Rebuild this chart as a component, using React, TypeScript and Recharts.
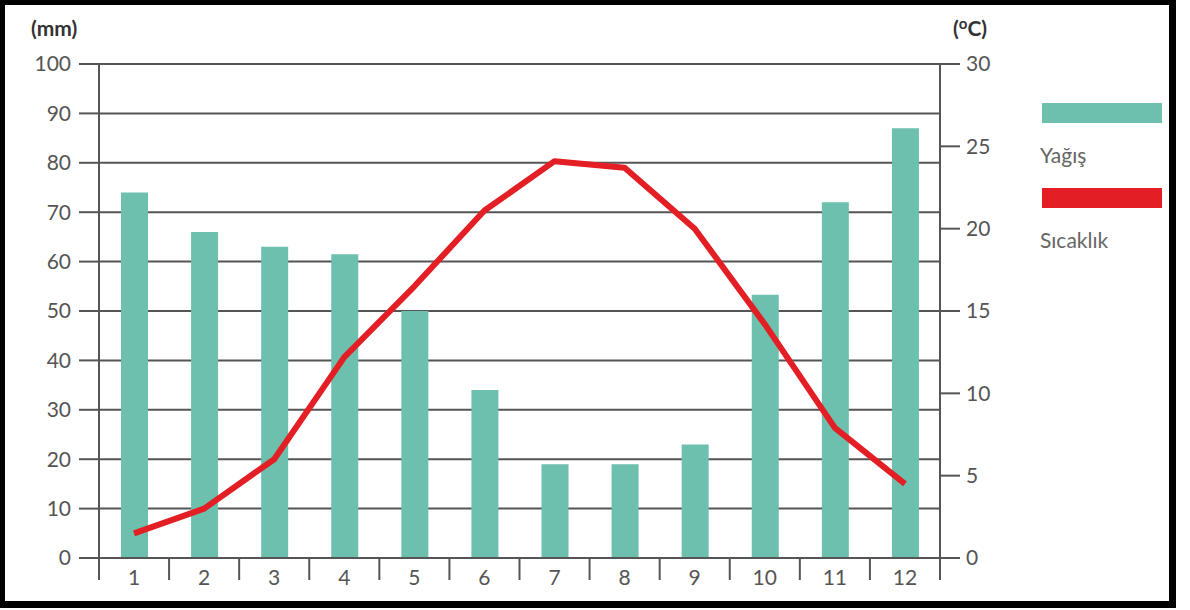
import React from "react";
import {
  ComposedChart,
  Bar,
  Line,
  XAxis,
  YAxis,
  CartesianGrid,
  Legend,
} from "recharts";

const months = ["1", "2", "3", "4", "5", "6", "7", "8", "9", "10", "11", "12"];
const yagis = [74, 66, 63, 61.5, 50, 34, 19, 19, 23, 53.3, 72, 87];
const sicaklik = [1.5, 3, 6, 12.2, 16.5, 21.1, 24.1, 23.7, 20, 14.2, 7.9, 4.5];
const mmTicks = [0, 10, 20, 30, 40, 50, 60, 70, 80, 90, 100];
const tempTicks = [0, 5, 10, 15, 20, 25, 30];

const GREEN = "#6cc0ad";
const RED = "#e31e24";
const GRID = "#555";
const TEXT = "#555";
const FONT = "Lato, 'Open Sans', sans-serif";

const CHART_W = 1190;
const CHART_H = 610;
const AXIS_W = 60;
const LEGEND_W = 130;
// the vertical legend on the right takes its own width out of the plot
const MARGIN = { top: 64, right: 60, bottom: 12, left: 39 };
const PLOT_W = CHART_W - MARGIN.left - MARGIN.right - 2 * AXIS_W - LEGEND_W;

const data = months.map((m, i) => ({
  ay: m,
  yagis: yagis[i],
  sicaklik: sicaklik[i],
}));

// month label in the middle of the band, tick marks on the band edges
function MonthTick(props: any) {
  const { x, y, payload, index } = props;
  const step = PLOT_W / months.length;
  const top = y - 8;
  return (
    <g>
      <line x1={x - step / 2} y1={top} x2={x - step / 2} y2={top + 22} stroke={GRID} strokeWidth={2} />
      {index === months.length - 1 && (
        <line x1={x + step / 2} y1={top} x2={x + step / 2} y2={top + 22} stroke={GRID} strokeWidth={2} />
      )}
      <text
        x={x}
        y={top + 27}
        textAnchor="middle"
        fill={TEXT}
        fontSize={21}
        fontFamily={FONT}
      >
        {payload.value}
      </text>
    </g>
  );
}

function LegendBox() {
  const item = (color: string, label: string) => (
    <div style={{ height: 85 }}>
      <div style={{ width: 120, height: 20, background: color }} />
      <div
        style={{
          fontFamily: FONT,
          fontSize: 21,
          lineHeight: "25px",
          color: "#666",
          marginTop: 19,
          marginLeft: -2,
        }}
      >
        {label}
      </div>
    </div>
  );
  return (
    <div>
      {item(GREEN, "Yağış")}
      {item(RED, "Sıcaklık")}
    </div>
  );
}

export default function App() {
  return (
    <div
      style={{
        position: "absolute",
        left: 0,
        top: 0,
        width: CHART_W,
        height: CHART_H,
        background: "#fff",
      }}
    >
      <div
        style={{
          position: "absolute",
          left: 0,
          top: 0,
          width: 1164,
          height: 596,
          border: "5px solid #000",
          borderRightWidth: 7,
          borderBottomWidth: 7,
        }}
      />
      <ComposedChart width={CHART_W} height={CHART_H} data={data} margin={MARGIN}>
        <CartesianGrid
          horizontal
          vertical={false}
          stroke={GRID}
          strokeWidth={2}
          yAxisId="mm"
        />
        <XAxis
          dataKey="ay"
          height={40}
          axisLine={{ stroke: GRID, strokeWidth: 2 }}
          tickLine={false}
          tick={<MonthTick />}
          interval={0}
        />
        <YAxis
          yAxisId="mm"
          orientation="left"
          width={AXIS_W}
          domain={[0, 100]}
          ticks={mmTicks}
          tickSize={20}
          tickMargin={8}
          axisLine={{ stroke: GRID, strokeWidth: 2 }}
          tickLine={{ stroke: GRID, strokeWidth: 2 }}
          tick={{ fill: TEXT, fontSize: 21, fontFamily: FONT }}
          label={{
            position: "insideTopLeft",
            content: () => (
              <text
                x={31}
                y={36}
                fill="#333"
                fontSize={21}
                fontWeight={700}
                fontFamily={FONT}
              >
                (mm)
              </text>
            ),
          }}
        />
        <YAxis
          yAxisId="c"
          orientation="right"
          width={AXIS_W}
          domain={[0, 30]}
          ticks={tempTicks}
          tickSize={20}
          tickMargin={6}
          axisLine={{ stroke: GRID, strokeWidth: 2 }}
          tickLine={{ stroke: GRID, strokeWidth: 2 }}
          tick={{ fill: TEXT, fontSize: 21, fontFamily: FONT }}
          label={{
            position: "insideTopRight",
            content: () => (
              <text
                x={953}
                y={36}
                fill="#333"
                fontSize={21}
                fontWeight={700}
                fontFamily={FONT}
              >
                (<tspan fontSize={15} dy={-7}>o</tspan>
                <tspan dy={7}>C)</tspan>
              </text>
            ),
          }}
        />
        <Legend
          layout="vertical"
          verticalAlign="top"
          align="right"
          content={<LegendBox />}
          wrapperStyle={{ position: "absolute", left: 1042, top: 103, width: LEGEND_W }}
        />
        <Bar
          yAxisId="mm"
          dataKey="yagis"
          name="Yağış"
          fill={GREEN}
          barSize={27}
          isAnimationActive={false}
        />
        <Line
          yAxisId="c"
          dataKey="sicaklik"
          name="Sıcaklık"
          type="linear"
          stroke={RED}
          strokeWidth={6}
          strokeLinejoin="round"
          dot={false}
          activeDot={false}
          isAnimationActive={false}
        />
      </ComposedChart>
    </div>
  );
}
